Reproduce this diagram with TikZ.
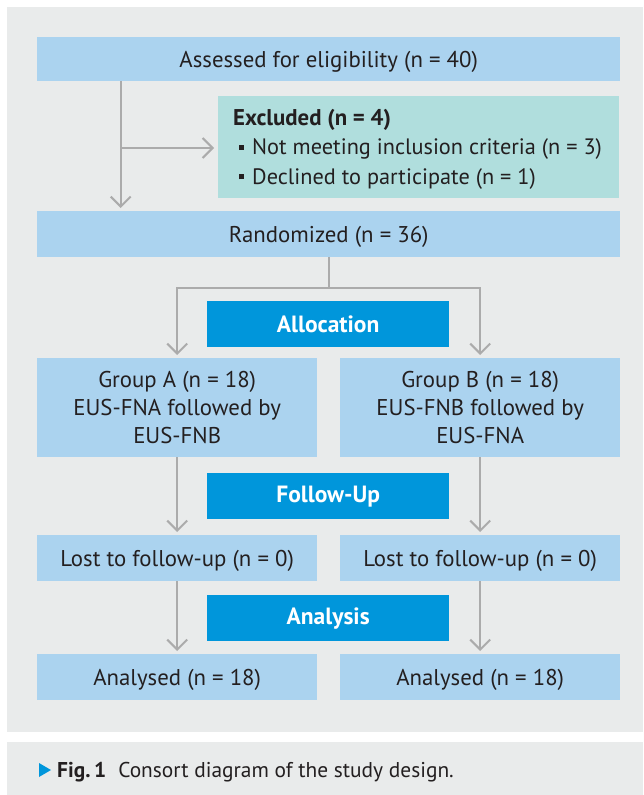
\documentclass[tikz,border=0pt]{standalone}
\usepackage{fontspec}
\setmainfont{PT Sans}
\usetikzlibrary{arrows.meta}
\definecolor{bggray}{HTML}{E9EBEB}
\definecolor{lblue}{HTML}{ABD3EF}
\definecolor{exclc}{HTML}{B0DEDD}
\definecolor{dblue}{HTML}{0096DB}
\definecolor{agray}{HTML}{ABABAB}
\definecolor{txt}{HTML}{231F20}
\newcommand{\bul}{\hspace*{6pt}\raisebox{0.22em}{\rule{5pt}{5pt}}\hspace{8pt}}
\begin{document}
\begin{tikzpicture}[x=1pt,y=-1pt,
  box/.style={fill=lblue, text=txt, anchor=north west, inner sep=0pt, align=center,
    font=\fontsize{22.8}{28}\selectfont},
  onebox/.style={box, text depth=0pt},
  stage/.style={fill=dblue, text=white, anchor=north west, inner sep=0pt,
    minimum width=242pt, minimum height=46pt, font=\fontsize{23.5}{24}\selectfont\bfseries},
  conn/.style={draw=agray, line width=2pt},
  arr/.style={conn, -{Straight Barb[length=10pt,width=20pt,line width=2pt]}, shorten >=3pt}]
\useasboundingbox (0,0) rectangle (643,795);
\fill[bggray] (7,7) rectangle (643,732);
\fill[bggray] (7,742) rectangle (643,795);

\node[onebox, minimum width=583pt, minimum height=44pt] (assess) at (37,37) {Assessed for eligibility (n = 40)};
\node[fill=exclc, anchor=north west, inner sep=0pt, minimum width=401pt, minimum height=102pt] (excl) at (218,96) {};
\node[anchor=west, inner sep=0pt, text=txt, align=left, font=\fontsize{22.3}{29.5}\selectfont] (excltext) at ([xshift=15pt,yshift=-2pt]excl.west)
  {{\fontsize{22.8}{29.5}\selectfont\bfseries Excluded (n = 4)}\\ \bul Not meeting inclusion criteria (n = 3)\\ \bul Declined to participate (n = 1)};
\node[onebox, minimum width=583pt, minimum height=46pt] (rand) at (37,211) {Randomized (n = 36)};
\node[stage] (alloc) at (207,301) {Allocation};
\node[box, minimum width=280pt, minimum height=99pt] (ga) at (37,358) {Group A (n = 18)\\EUS-FNA followed by\\EUS-FNB};
\node[box, minimum width=280pt, minimum height=99pt] (gb) at (340,358) {Group B (n = 18)\\EUS-FNB followed by\\EUS-FNA};
\node[stage] (follow) at (207,473) {Follow-Up};
\node[onebox, minimum width=280pt, minimum height=46pt] (la) at (37,535) {Lost to follow-up (n = 0)};
\node[onebox, minimum width=280pt, minimum height=46pt] (lb) at (340,535) {Lost to follow-up (n = 0)};
\node[stage] (anal) at (207,595) {Analysis};
\node[onebox, minimum width=280pt, minimum height=46pt] (aa) at (37,654) {Analysed (n = 18)};
\node[onebox, minimum width=280pt, minimum height=46pt] (ab) at (340,654) {Analysed (n = 18)};

\coordinate (top) at ([xshift=-208pt]assess.south);
\coordinate (branch) at (top |- 0,148);
\draw[arr] (top) -- (top |- rand.north);
\draw[arr, shorten >=4pt] (branch) -- (excl.west |- branch);
\coordinate (split) at (rand.south |- 0,288);
\draw[conn] (rand.south) -- (split);
\draw[arr] (split) -| (ga.north);
\draw[arr] (split) -| (gb.north);
\draw[arr] (ga.south) -- (la.north);
\draw[arr] (gb.south) -- (lb.north);
\draw[arr] (la.south) -- (aa.north);
\draw[arr] (lb.south) -- (ab.north);

\fill[dblue] (39,763) -- (51,770) -- (39,777) -- cycle;
\node[anchor=base west, inner sep=0pt, text=txt, font=\fontsize{21.4}{24}\selectfont] (cap) at (57,777)
  {{\bfseries Fig.\,1}\hspace{12pt}Consort diagram of the study design.};
\end{tikzpicture}
\end{document}
